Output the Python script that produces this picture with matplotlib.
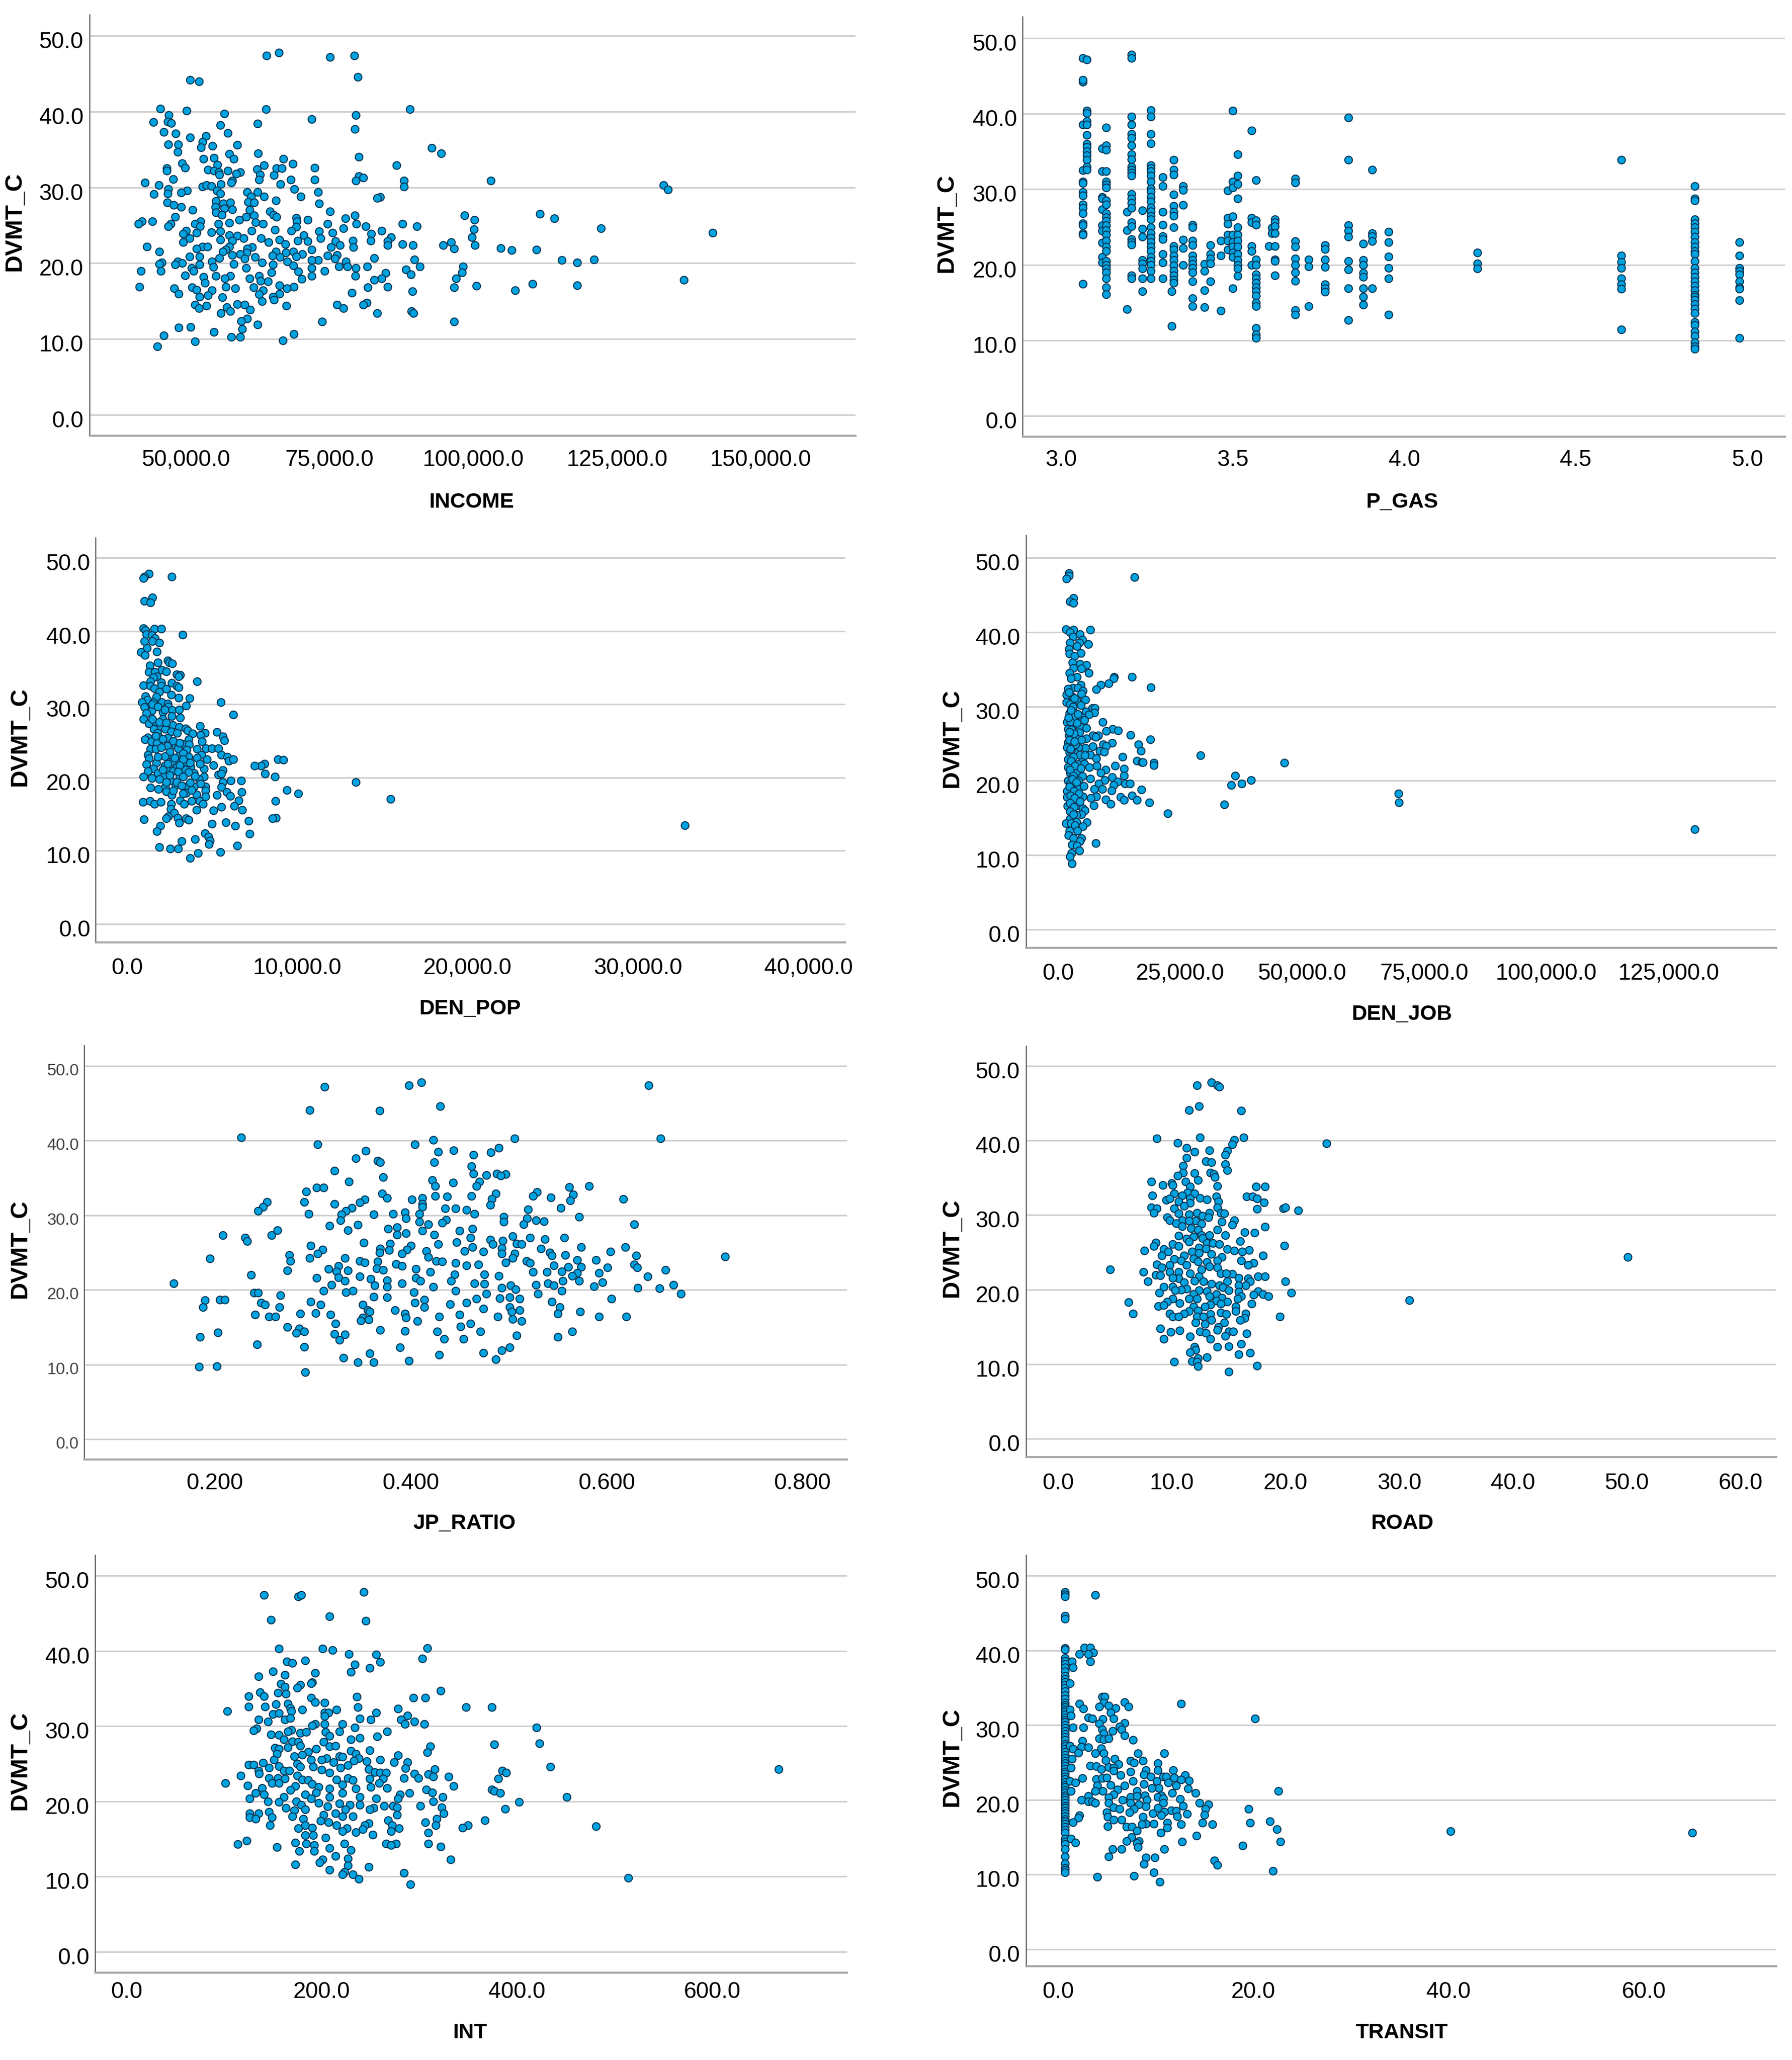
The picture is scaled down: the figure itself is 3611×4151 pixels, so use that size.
import numpy as np
import matplotlib
matplotlib.use("Agg")
import matplotlib.pyplot as plt
from matplotlib.transforms import ScaledTranslation

income_pts = [(64100,47.4),(66200,47.8),(75100,47.2),(79300,47.4),(79900,44.6),(50800,44.2),(52300,44.0),(45600,40.4),(50200,40.1),(64000,40.3),(89000,40.3),(56700,39.7),(79600,39.5),(47100,39.5),(71900,39.0),(44400,38.6),(46900,38.7),(47500,38.5),(62500,38.4),(56000,38.2),(79400,37.7),(46200,37.3),(57300,37.2),(48300,37.1),(53500,36.8),(50800,36.6),
(47000,35.7),(48700,35.7),(54700,35.5),(52900,36.0),(52700,35.3),(59000,35.6),(92800,35.2),(94400,34.5),(48600,34.7),(57600,34.4),(62600,34.5),(53100,33.8),(54900,33.9),(58400,33.8),(67000,33.8),(80100,34.0),(49400,33.2),(68600,33.1),(86700,32.9),(55500,33.0),(49900,32.6),(46700,32.5),(63600,32.9),(72400,32.6),(65800,32.5),(66700,32.5),(62400,32.4),(53900,32.3),(54900,32.2),(57300,32.2),(46700,32.2),(55800,32.0),(59500,32.0),(58800,31.8),(55900,31.7),(62900,31.7),(65400,31.6),(80100,31.5),(80900,31.3),(47800,31.1),(62800,31.0),(68300,31.0),(72400,31.0),(79600,30.9),(88000,30.9),(103100,30.9),(133100,30.3),(133900,29.7),(58100,30.9),(57900,30.6),(42900,30.6),(45300,30.3),(66500,30.4),(52900,30.1),(53600,30.3),(54500,30.2),(56100,30.4),(88000,30.1),(68900,29.8),(47000,29.8),(50300,29.6),(55400,29.6),(60700,29.4),(62500,29.4),(73000,29.4),(44500,29.1),(46900,29.2),(49200,29.3),(56000,29.2),(61400,28.8),(63600,28.8),(70000,28.8),(83800,28.7),(83300,28.6),(65700,28.3),(55300,28.2),(46800,28.0),(56600,27.9),(57800,28.0),(60900,28.1),(61900,28.0),(73200,27.9),(47900,27.7),(55200,27.4),(49200,27.4),(56700,27.2),(51200,27.0),(58100,27.1),(61100,27.0),(75100,26.8),(64700,26.8),(55300,26.7),(56300,26.4),(65300,26.4),(61900,26.3),(79400,26.3),(98500,26.3),(111600,26.5),(114100,25.9),(65800,26.1),(48200,26.1),(60500,26.1),(69200,26.0),(77800,25.9),(100200,25.7),(71200,25.7),(59300,25.7),(44200,25.5),(42400,25.5),(41800,25.2),(57600,25.3),(52600,25.5),(51600,25.2),(62200,25.4),(63500,25.2),(47400,25.2),(47000,24.9),(52500,24.9),(55700,25.2),(69300,25.5),(74700,25.2),(87700,25.2),(90200,24.9),(79700,25.2),(81300,24.9),(77400,24.6),(69200,24.8),(100100,24.5),(122200,24.6),(68400,24.3),(84100,24.3),(141600,24.0),
(50100,24.3),(54500,24.1),(56000,24.2),(61500,24.3),(65500,24.4),(73200,24.2),(75500,24.0),(82300,23.9),(51900,24.0),(49600,23.9),(57600,23.7),(59000,23.6),(70500,23.7),(73500,23.3),(85700,23.4),(50700,23.3),(60100,23.3),(63100,23.3),(99800,23.4),(56000,23.1),(66300,23.1),(69500,23.0),(71200,22.9),(82200,23.0),(96200,22.8),(79100,23.0),(76100,22.9),(58100,23.0),(49600,22.8),(64400,22.8),(85100,22.9),
(67300,22.5),(76800,22.4),(87700,22.5),(89500,22.4),(94800,22.4),(100300,22.4),(85100,22.4),(43300,22.2),(52900,22.2),(53800,22.2),(57600,22.2),(61600,22.1),(75300,22.1),(79200,22.1),(104800,22.0),(51900,21.9),(57000,21.8),(60700,21.9),(71900,21.8),(106700,21.7),(96700,21.9),(111000,21.8),(45400,21.5),(65700,21.5),(68700,21.5),(56500,21.5),(60600,21.4),(67400,21.4),(52400,20.9),(59500,21.2),(70300,21.2),(74700,21.0),(65100,21.0),(58100,21.1),(76300,21.1),(50700,20.9),(66400,20.8),(55900,20.7),(69200,20.9),(62100,20.8),(73000,20.4),(71900,20.4),(76000,20.6),(89800,20.5),(82800,20.7),(60300,20.6),(115400,20.4),(121000,20.5),(118100,20.1),(77900,20.2),(54600,20.2),(67700,20.2),(63300,20.1),(45900,20.1),(48600,20.2),(49400,20.0),
(45400,19.9),(48200,19.8),(58400,19.9),(52400,19.8),(65200,19.8),(68700,19.7),(76700,19.6),(78100,19.6),(79600,19.4),(81600,19.6),(90700,19.6),(98200,19.6),(54800,19.5),(60500,19.4),(51000,19.4),(71900,19.4),(42200,19.0),(45700,19.0),(51400,19.0),(88300,19.2),(69600,18.9),(74200,19.0),(64900,18.8),(98100,18.8),(89200,18.5),(84800,18.7),(49900,18.4),(53100,18.2),(55300,18.3),(57800,18.3),(62800,18.3),(71900,18.3),(79500,18.3),(97000,18.0),(136600,17.8),(84100,18.0),(70200,17.9),(61100,18.0),(82800,17.8),(56800,18.0),(64300,17.6),(53400,17.4),(63000,17.7),(110300,17.3),(42000,16.9),(100600,17.0),(118100,17.1),(57000,16.9),(51100,16.8),(66300,17.1),(68800,16.9),(85100,16.9),(81700,16.8),(96700,16.8),(61800,16.8),(48000,16.7),(58600,16.7),(51900,16.5),(67600,16.7),(54600,16.4),(89400,16.3),(107300,16.4),(63500,16.4),(78900,16.1),(48800,16.0),(53900,15.8),(62800,15.9),(66300,16.0),(52400,15.6),(56400,15.5),(65200,15.6),(63300,15.0),(65400,15.2),(81500,14.8),
(59000,14.6),(60300,14.5),(51600,14.5),(53600,14.4),(67500,14.4),(76300,14.5),(80900,14.5),(57200,14.2),(52300,14.1),(61200,13.9),(77400,14.1),(57800,13.7),(89300,13.7),(56100,13.4),(83300,13.4),(89600,13.4),(60700,12.7),(59700,12.4),(73700,12.3),(96700,12.3),(62500,11.9),(48800,11.5),(50900,11.6),(59800,11.3),(54900,10.9),(68800,10.7),(46200,10.5),(57900,10.3),(59500,10.3),(51600,9.7),(66900,9.8),(45100,9.0)]

p_gas_columns = [3.063,3.075,3.12,3.132,3.193,3.205,3.237,3.262,3.297,3.328,3.323,3.356,3.383,3.418,3.435,3.466,3.486,3.5,3.515,3.556,3.568,3.606,3.614,3.624,3.682,3.721,3.77,3.837,3.881,3.907,3.954,4.214,4.633,4.846,4.977]
p_gas_values = [
[47.4,44.2,44.5,38.6,32.5,31.0,30.8,29.6,29.2,28.0,27.5,26.8,25.5,25.2,24.2,24.0,17.5],
[47.2,40.4,40.1,39.0,38.6,37.2,36.0,35.6,35.0,34.5,33.9,33.0,32.6],
[35.4,32.4,29.0,28.8,27.3,25.2,24.5,22.9,21.0,20.3],
[38.2,35.8,35.2,32.4,31.0,30.6,30.2,28.5,28.0,26.8,26.3,25.8,25.2,24.6,24.0,23.2,22.4,21.8,20.5,20.0,19.5,19.0,18.2,17.0,16.1],
[27.0,24.6,14.1],
[47.8,47.4,39.6,38.6,37.3,36.8,35.8,34.6,34.0,33.0,32.6,32.2,31.8,29.4,28.8,28.2,27.5,25.6,25.1,23.4,23.0,22.7,18.6,18.2],
[20.6,20.2,19.5,18.2,16.5,27.2,24.8,23.7],
[40.5,39.6,37.3,36.1,33.2,32.8,32.4,31.8,31.0,30.1,29.7,29.0,28.4,27.6,27.1,26.5,26.0,25.0,24.2,23.6,23.0,22.4,21.8,21.0,20.5,20.0,19.2,18.2],
[31.6,30.4,27.0,25.3,23.8,23.4,21.4,20.3,18.2],
[33.9,32.6,31.9,29.3,27.8,27.0,26.5,25.0,22.5,22.0,21.2,20.6,19.9,19.2,18.6,18.0,17.6],
[16.5,11.9],
[30.4,29.9,27.9,23.3,22.2,20.0],
[25.3,25.0,23.2,22.6,21.2,20.6,20.1,19.6,19.0,17.8,15.6,14.5],
[20.1,19.2,16.6,14.4],
[22.6,21.4,20.8,20.2,17.8],
[23.2,21.2,13.9],
[29.8,26.2,25.4,24.0,23.2,22.0],
[40.4,31.0,30.2,26.4,24.0,23.0,22.4,21.6,21.0,16.9],
[34.6,31.8,30.7,28.8,25.0,24.0,23.2,22.4,21.4,20.6,20.0,19.5,18.5],
[37.8,26.2,25.6,22.5,21.8,20.0],
[31.2,25.9,25.3,20.7,20.0,18.7,18.2,17.6,17.0,16.5,15.9,15.0,14.5,11.6,10.8,10.3],
[22.5],
[24.9,24.2],
[26.0,25.6,25.1,24.2,22.5,20.7,20.5,18.6],
[31.4,30.9,23.1,22.4,20.8,20.0,19.0,17.9,14.0,13.4],
[20.7,19.8,14.5],
[22.6,22.1,20.7,19.7,17.4,16.9,16.4],
[39.5,33.9,25.2,24.5,23.7,20.5,19.4,16.9,12.7],
[22.8,20.6,20.0,18.9,18.4,16.9,15.8,14.7],
[32.6,24.2,23.8,23.1,16.9],
[24.4,23.0,21.1,19.6,18.2,13.4],
[21.6,20.2,19.5],
[33.9,21.2,20.4,19.6,18.2,17.4,16.8,11.4],
[30.4,28.8,28.5,26.0,25.5,25.0,24.4,23.7,23.0,22.4,21.8,21.4,20.5,19.6,19.0,18.4,17.8,17.2,16.6,16.0,15.8,15.4,14.8,14.2,13.6,12.4,12.0,11.2,10.6,9.7,9.2,8.9],
[23.0,21.2,19.6,19.2,18.7,17.8,17.0,16.8,15.3,10.3]]

den_pop_pts = [(1290,47.8),(1030,47.4),(960,47.2),(2630,47.4),(1490,44.6),(1020,44.1),(1360,43.9),(970,40.4),(1090,40.1),(1590,40.3),(2010,40.3),(3270,39.5),(1140,39.6),(1460,39.4),(1640,39.0),(1020,38.6),(1490,38.6),(1880,38.4),(1160,37.7),(1760,37.2),(810,37.1),(1060,36.7),(2400,36.0),(2480,35.7),(2650,35.6),(1800,35.7),(1340,35.3),(1290,34.4),(2050,34.7),(2300,34.5),(1630,34.4),(2920,34.1),(3130,34.0),(3030,33.8),(1760,33.8),(4100,33.1),(1530,33.7),(1360,33.1),(2010,33.0),(2630,32.9),(960,32.6),(1360,32.5),(2010,32.5),(2900,32.5),(3020,32.3),(1590,32.2),(2300,32.1),(1900,31.7),(2600,31.3),(1090,31.1),(1730,31.0),(3020,30.9),(3670,30.8),(1190,30.6),(860,30.3),(5510,30.3),(1540,30.3),(2050,30.3),(2400,30.1),(3470,29.8),(1010,29.6),(2430,29.7),(1460,29.1),(2650,29.2),(3060,29.3),(2090,28.9),(6220,28.6),(1130,28.8),(2630,28.4),(3110,28.2),(970,28.0),(2090,28.0),(1290,27.4),(1710,27.5),(2680,27.2),(1930,27.0),(3060,26.9),(4290,27.0),(3430,26.7),(1560,26.6),(2230,26.6),(2600,26.3),(3550,26.4),(5260,26.2),(4560,26.1),(1790,26.1),(2940,26.1),(3840,26.0),(4300,25.8),(5610,25.6),(1900,25.5),(2380,25.4),(1230,25.5),(1040,25.2),(5720,25.1),(3600,25.2),(4390,24.9),(1430,24.9),(1760,24.7),(3270,24.6),(3630,24.5),(2850,24.4),(2360,24.3),(1360,23.9),(1680,23.9),(4100,23.9),(4640,24.0),(4990,24.0),(5360,24.0),(3500,23.8),(1230,23.1),(2430,23.1),(3100,23.1),(4370,23.1),(5530,23.1),(3600,22.8),(1290,22.6),(4100,22.7),(5880,22.8),(2680,22.2),(3050,22.3),(4700,22.5),(5960,22.3),(6240,22.5),(8850,22.5),(9190,22.4),(8060,21.9),(7860,21.6),(7490,21.6),(1730,22.0),(3500,22.1),(1150,21.8),(5070,21.7),(2200,21.6),(2900,21.4),(3740,21.5),(4520,21.2),(5610,21.0),(1540,21.2),(2510,21.1),(3430,21.1),(4270,21.9),(1220,20.9),(2680,20.9),(1810,20.6),(3930,20.6),(8100,20.5),(5360,20.4),(5530,20.5),(8670,20.1),(4520,20.1),(960,20.1),(2180,20.1),(3100,20.2),(1460,19.9),(4220,19.8),(2570,19.6),(6090,19.6),(6710,19.6),(13430,19.4),(5610,19.4),(5530,18.7),(3500,18.8),(2230,18.8),(2860,19.0),(1360,18.6),(3930,18.8),(4610,18.8),(1840,18.4),(9370,18.3),(2310,18.1),(4610,18.2),(6740,18.0),(5860,18.0),(10040,17.8),(3480,17.9),(2630,17.6),(4080,17.7),(5270,17.6),(6070,17.5),(4610,17.4),(920,16.7),(1330,16.8),(1590,16.4),(1980,16.7),(3130,16.9),(3800,16.8),(4250,16.8),(6560,16.9),(8700,16.8),(2600,16.4),(3350,16.4),(4470,16.4),(15470,17.1),(6280,16.1),(5530,16.0),(2570,15.7),(4070,15.6),(5070,15.5),(6760,15.6),(2770,15.2),(2430,14.7),(2970,14.5),(3470,14.4),(8750,14.5),(8550,14.4),(2300,14.4),(990,14.3),(3600,14.2),(7150,14.1),(3060,13.8),(5810,13.9),(4970,13.7),(6340,13.4),(1960,13.4),(1760,12.7),(4570,12.4),(7210,12.3),(4770,11.9),(3990,11.6),(4870,11.4),(3210,11.3),(4820,10.9),(6460,10.7),(1900,10.5),(2530,10.3),(3000,10.3),(4170,9.7),(5490,9.8),(3700,9.0),(32750,13.5),
(2000,24.1),(2500,23.5),(3000,24.0),(3300,23.3),(2200,22.9),(2800,22.7),(3300,22.5),(1800,22.8),(2400,21.9),(3100,21.7),(3700,22.0),(2100,21.1),(3000,20.8),(3600,20.7),(2500,20.3),(3300,20.1),(4000,20.2),(1900,19.8),(2900,19.4),(3700,19.3),(4300,19.2),(2300,19.4),(3200,18.9),(3800,18.3),(2700,18.2),(3300,17.8),(1700,25.7),(2100,25.3),(2700,25.0),(3100,24.7),(1500,28.0),(1900,27.6),(2300,27.5),(1500,30.0),(1800,29.7),(2200,29.3)]

den_job_pts = [(2250,47.9),(2190,47.6),(1730,47.2),(15660,47.4),(3120,44.6),(2430,44.1),(3180,43.9),(1610,40.4),(3180,40.3),(6560,40.3),(2430,40.0),(4470,39.7),(3070,39.4),(4930,39.0),(2480,38.6),(4350,38.6),(6210,38.4),(3880,38.1),(2190,37.7),(4640,37.2),(2370,37.1),(3360,36.8),(2950,35.9),(4470,35.7),(5750,35.6),(3180,35.2),(4820,35.1),(2310,34.5),(6270,34.5),(3880,34.0),(2600,33.8),(11460,34.0),(15190,34.0),(11340,33.8),(10410,33.1),(8720,32.9),(4640,32.9),(18980,32.6),(7850,32.3),(3010,32.5),(2020,32.4),(4060,32.5),(5050,32.1),(4820,31.7),(2950,31.3),(1730,31.6),(5630,30.9),(3770,30.9),(1730,30.6),(2480,30.3),(4640,30.2),(6970,29.8),(7500,29.8),(5690,29.3),(7440,29.2),(6270,28.9),(2310,29.1),(3530,29.1),(4930,28.5),(5400,28.2),(3010,28.3),(9190,27.9),(1840,27.9),(3420,27.6),(4470,27.3),(5810,27.1),(2020,27.0),(11170,27.0),(9890,26.7),(12340,26.8),(4350,26.5),(14790,26.2),(7090,26.1),(8260,26.1),(7730,25.9),(2190,26.1),(5810,25.7),(3770,25.7),(18870,25.6),(4820,25.5),(2020,25.2),(11040,25.1),(9250,24.9),(16420,24.9),(9890,24.7),(7090,24.6),(5630,24.4),(2890,24.7),(4180,24.5),(1840,24.5),(8550,24.0),(9480,23.9),(17000,24.0),(2310,23.8),(3650,23.7),(6560,23.5),(29130,23.4),(13210,23.2),(7850,23.0),(2020,22.9),(4930,23.0),(16130,22.7),(17170,22.5),(17400,22.5),(19620,22.4),(19620,22.1),(46390,22.4),(2890,22.3),(4060,22.2),(5400,22.3),(7970,22.0),(11700,22.0),(2020,21.8),(6390,21.8),(9710,21.5),(13560,21.6),(2480,21.1),(3770,21.1),(8720,21.1),(4930,20.6),(36240,20.7),(13560,20.7),(11040,20.5),(6560,20.3),(2020,20.0),(9590,20.1),(39560,20.1),(4180,20.0),(12220,19.9),(2480,19.6),(13680,19.6),(14730,19.6),(37570,19.6),(35420,19.4),(8310,19.6),(11340,19.4),(4350,19.1),(7440,18.9),(9010,18.9),(2890,18.8),(17120,18.8),(10940,18.7),(1840,18.6),(5050,17.9),(7850,17.9),(15130,18.0),(69760,18.3),(1840,17.8),(12800,17.8),(6680,17.7),(9770,17.5),(13560,17.4),(16190,17.4),(69820,17.1),(3180,17.4),(18690,17.1),(10760,16.9),(34060,16.8),(7270,16.7),(1900,16.6),(4230,16.7),(2890,16.3),(5050,16.3),(5510,16.0),(4820,15.5),(3770,15.4),(22430,15.6),(2430,14.9),(3770,14.5),(5870,14.4),(1610,14.3),(2600,14.3),(3470,14.0),(5050,13.9),(3940,13.3),(2310,13.3),(2130,12.7),(4820,12.3),(3180,12.3),(4520,11.9),(7730,11.6),(2890,11.4),(3880,11.3),(4350,10.6),(2780,10.3),(2480,9.8),(2890,8.9),(130400,13.5),
(3000,30.0),(3500,28.7),(2500,28.0),(3900,27.8),(2700,26.9),(3300,26.4),(2300,26.6),(3600,24.9),(2600,24.1),(4500,23.5),(3100,23.2),(5500,23.4),(2600,22.7),(3500,22.0),(4700,21.7),(2400,21.5),(3200,20.7),(2900,20.2),(3800,19.8),(5300,19.3),(2300,19.2),(3300,18.6),(4300,18.3),(2500,18.0),(3400,17.7),(4500,17.2),(2400,17.0),(3300,16.5),(2400,15.9),(3100,15.5),(2200,31.9),(3400,31.1),(2600,29.5),(4100,29.0),(2100,28.5),(2300,25.5),(3400,25.3),(2500,24.3)]

jp_ratio_pts = [(.411,47.8),(.398,47.4),(.312,47.2),(.643,47.4),(.430,44.6),(.297,44.1),(.368,44.0),(.227,40.4),(.506,40.3),(.655,40.3),(.423,40.1),(.305,39.5),(.404,39.5),(.490,39.0),(.444,38.7),(.354,38.6),(.428,38.5),(.482,38.4),(.464,38.1),(.344,37.6),(.366,37.3),(.369,37.1),(.424,37.1),(.462,36.6),(.322,36.0),(.464,35.6),(.477,35.4),(.488,35.6),(.497,35.5),(.492,35.3),(.372,35.1),(.422,34.7),(.337,34.5),(.443,34.4),(.470,34.5),(.467,33.9),(.425,33.9),(.304,33.7),(.311,33.7),(.562,33.8),(.582,33.9),(.293,33.2),(.529,33.1),(.371,32.9),(.566,32.8),(.487,32.9),(.525,32.6),(.543,32.4),(.462,32.6),(.425,32.6),(.437,32.5),(.376,32.3),(.412,32.3),(.401,32.1),(.617,32.2),(.483,32.2),(.563,32.0),(.253,31.8),(.353,32.1),(.291,31.8),(.348,31.7),(.322,31.5),(.412,31.5),(.481,31.4),(.249,31.1),(.340,31.0),(.412,31.1),(.553,31.0),(.435,30.9),(.446,30.9),(.457,30.7),(.520,30.8),(.244,30.6),(.334,30.6),(.296,30.2),(.394,30.4),(.409,30.2),(.382,30.2),(.465,30.2),(.362,30.1),(.329,30.1),(.572,29.8),(.495,29.8),(.395,29.6),(.519,29.6),(.328,29.3),(.436,29.4),(.528,29.3),(.536,29.2),(.495,29.1),(.409,29.1),(.628,28.8),(.418,28.8),(.432,29.0),(.515,28.8),(.317,28.6),(.346,28.7),(.386,28.4),(.377,28.2),(.450,27.9),(.463,28.2),(.412,27.9),(.264,28.0),(.336,28.0),(.395,27.6),(.386,27.4),(.424,27.4),(.208,27.3),(.258,27.3),(.504,27.2),(.557,27.0),(.231,27.0),(.522,27.0),(.461,27.0),(.537,26.8),(.233,26.5),(.481,26.7),(.494,26.6),(.447,26.4),(.352,26.3),(.508,26.2),(.513,26.1),(.379,26.2),(.428,26.1),(.484,26.1),(.298,25.9),(.400,25.9),(.463,25.7),(.574,25.7),(.619,25.7),(.493,25.6),(.533,25.5),(.369,25.5),(.310,25.4),(.378,25.3),(.396,25.4),(.416,25.2),(.455,25.2),(.474,25.1),(.604,25.1),(.305,24.9),(.368,25.0),(.493,24.9),(.542,25.0),(.506,24.9),(.391,24.9),(.276,24.7),(.630,24.6),(.721,24.5),(.558,24.7),(.544,24.6),(.297,24.3),(.333,24.3),(.195,24.2),(.418,24.4),(.504,24.3),(.589,24.0),(.570,24.0),(.277,23.9),(.348,23.9),(.366,23.8),(.353,23.7),(.426,23.9),(.518,23.9),(.432,23.8),(.446,23.6),(.385,23.5),(.469,23.4),(.497,23.7),(.522,23.6),(.628,23.4),(.546,23.3),(.561,23.1),(.457,23.3),(.391,23.2),(.574,23.1),(.326,23.2),(.601,23.0),(.631,23.0),(.316,22.8),(.365,22.9),(.372,22.7),(.405,22.8),(.274,22.6),(.660,22.7),(.336,22.6),(.324,22.5),(.554,22.5),(.592,22.3),(.525,22.4),(.539,22.4),(.420,22.4),(.570,22.3),(.445,22.1),(.475,22.1),(.237,22.0),(.490,21.9),(.642,21.8),(.565,21.9),(.348,21.8),(.326,21.7),(.304,21.6),(.405,21.6),(.359,21.5),(.376,21.3),(.572,21.2),(.441,21.2),(.333,21.2),(.410,21.2),(.555,21.2),(.540,20.9),(.596,21.0),(.158,20.9),(.465,20.9),(.475,20.8),(.319,20.7),(.391,20.9),(.668,20.7),(.546,20.6),(.528,20.7),(.502,20.6),(.363,20.6),(.587,20.5),(.423,20.4),(.376,20.4),(.632,20.3),(.493,20.3),(.507,20.1),(.654,20.2),(.446,19.9),(.311,19.9),(.341,19.9),(.554,19.9),(.334,19.7),(.403,19.7),(.676,19.5),(.240,19.6),(.244,19.6),(.477,19.5),(.530,19.5),(.267,19.3),(.362,19.1),(.376,19.0),(.501,19.0),(.491,18.9),(.605,18.8),(.205,18.7),(.210,18.7),(.190,18.6),(.414,18.7),(.467,18.8),(.511,18.8),(.298,18.4),(.247,18.3),(.404,18.3),(.544,18.4),(.457,18.3),(.440,18.1),(.308,18.0),(.251,18.0),(.351,18.0),(.188,17.7),(.501,17.7),(.552,17.7),(.266,17.7),(.414,17.7),(.474,17.5),(.356,17.3),(.511,17.3),(.384,17.3),(.573,17.1),(.358,17.1),(.503,17.1),(.303,16.9),(.287,16.8),(.550,16.8),(.241,16.7),(.318,16.7),(.394,16.8),(.429,16.4),(.450,16.7),(.255,16.4),(.262,16.4),(.489,16.4),(.592,16.4),(.620,16.4),(.351,16.3),(.395,16.3),(.357,16.0),(.349,15.9),(.504,16.1),(.513,15.8),(.407,15.8),(.323,15.5),(.461,15.5),(.451,15.1),(.274,15.0),(.286,14.8),(.369,14.6),(.471,14.4),(.565,14.4),(.394,14.5),(.291,14.4),(.283,14.2),(.427,14.4),(.322,14.1),(.203,14.3),(.333,14.0),(.185,13.7),(.550,13.7),(.508,13.9),(.327,13.3),(.434,13.4),(.454,13.4),(.243,12.7),(.291,12.4),(.389,12.3),(.501,12.3),(.493,11.9),(.474,11.6),(.358,11.5),(.429,11.3),(.331,10.9),(.487,10.7),(.398,10.5),(.346,10.3),(.362,10.3),(.184,9.7),(.202,9.8),(.292,9.0)]

road_pts = [(13.5,47.8),(12.2,47.4),(14.0,47.4),(14.2,47.2),(12.4,44.6),(11.5,44.1),(16.1,44.0),(8.7,40.3),(12.5,40.4),(16.3,40.4),(15.5,40.1),(10.5,39.7),(23.6,39.6),(15.3,39.5),(11.3,39.0),(12.0,38.5),(13.3,38.7),(14.9,38.6),(14.7,38.1),(11.3,37.7),(13.0,37.2),(13.5,37.1),(14.7,36.8),(11.0,36.6),(14.9,36.0),(12.0,35.6),(11.0,35.7),(13.4,35.7),(13.7,35.5),(10.5,35.3),(13.8,35.1),(12.3,34.7),(8.2,34.5),(11.2,34.5),(10.0,34.3),(9.2,34.0),(10.1,34.0),(14.0,33.9),(11.6,33.8),(17.4,33.8),(18.2,33.8),(10.2,32.9),(11.4,33.0),(12.0,32.9),(8.3,32.6),(10.9,32.6),(13.9,32.5),(16.6,32.5),(17.1,32.5),(17.5,32.2),(11.6,32.2),(12.5,32.3),(13.1,32.1),(9.5,32.0),(9.8,32.2),(10.6,31.8),(11.6,31.6),(14.1,31.8),(18.1,31.7),(11.1,31.2),(10.2,30.9),(8.2,31.0),(8.7,30.9),(14.0,31.0),(17.5,30.8),(19.8,30.9),(20.0,31.0),(21.1,30.6),(8.4,30.3),(10.6,30.2),(12.2,30.3),(13.3,30.3),(14.3,30.3),(14.6,30.2),(11.5,30.1),(12.7,29.9),(13.2,29.7),(9.6,29.7),(9.8,29.3),(15.5,29.3),(10.9,29.3),(12.1,29.2),(11.5,29.2),(14.4,29.1),(10.4,28.9),(12.6,28.8),(10.9,28.5),(15.3,28.7),(18.2,28.4),(11.7,28.2),(12.3,28.0),(14.0,28.0),(16.4,27.7),(17.3,27.6),(10.6,27.2),(12.6,27.3),(13.3,27.3),(14.7,27.3),(11.9,27.1),(11.3,26.8),(12.7,26.9),(11.5,26.4),(16.0,26.5),(13.1,26.2),(13.6,26.2),(8.6,26.3),(10.1,26.1),(14.2,26.1),(8.4,25.8),(10.6,25.8),(19.9,25.9),(12.4,25.6),(13.0,25.5),(14.9,25.4),(15.5,25.2),(16.8,25.3),(16.2,25.1),(9.3,25.4),(9.7,25.1),(11.8,25.1),(7.6,25.2),(12.4,24.9),(13.5,24.8),(9.1,24.6),(11.1,24.6),(18.0,24.6),(14.4,24.4),(10.2,24.1),(10.8,23.9),(11.9,24.2),(12.3,23.8),(16.1,23.9),(14.0,23.9),(13.1,23.7),(17.2,23.6),(8.7,23.4),(9.8,23.3),(11.3,23.3),(16.7,23.3),(9.1,23.0),(13.3,23.1),(4.6,22.7),(12.6,22.7),(14.0,23.0),(7.5,22.4),(10.6,22.4),(9.8,22.4),(14.3,22.2),(15.3,22.1),(11.6,22.2),(8.6,22.0),(9.0,21.9),(14.8,22.2),(12.4,21.8),(17.6,21.8),(18.2,21.8),(10.6,21.5),(15.9,21.6),(16.7,21.5),(10.1,21.6),(12.0,21.2),(14.9,21.1),(16.9,21.1),(7.9,21.1),(20.0,21.1),(11.1,21.0),(12.8,21.1),(13.5,20.8),(14.2,20.6),(16.5,20.6),(15.9,20.6),(9.3,20.4),(10.1,20.4),(11.3,20.1),(14.5,20.3),(12.4,19.9),(10.8,20.0),(10.3,19.9),(17.6,19.8),(15.0,19.9),(13.1,19.8),(8.9,19.6),(20.5,19.6),(15.9,19.7),(18.0,19.4),(17.2,19.3),(18.5,19.1),(11.9,19.4),(13.9,19.4),(13.3,19.1),(16.1,19.1),(14.4,18.9),(10.1,18.8),(12.2,18.8),(11.5,18.8),(15.8,18.8),(30.9,18.6),(13.9,18.5),(6.2,18.3),(9.6,18.4),(10.7,18.2),(14.9,18.4),(17.0,18.1),(13.4,18.0),(14.3,18.1),(8.8,17.8),(9.3,17.9),(11.9,17.7),(12.9,17.7),(15.6,17.7),(11.5,17.1),(12.3,17.2),(15.6,17.1),(6.6,16.8),(9.8,16.8),(14.3,16.9),(16.5,16.8),(14.8,16.7),(13.4,16.7),(11.1,16.8),(10.1,16.4),(10.6,16.4),(12.2,16.4),(12.8,16.4),(19.5,16.4),(16.4,16.2),(13.5,15.9),(16.0,15.9),(12.1,15.6),(14.6,15.6),(12.9,15.4),(9.0,14.8),(14.1,15.0),(14.0,14.6),(10.7,14.5),(9.9,14.3),(12.5,14.4),(15.0,14.4),(15.4,14.4),(13.0,14.2),(16.6,14.1),(11.6,13.7),(14.7,13.8),(9.3,13.4),(13.4,13.4),(16.1,12.7),(12.0,12.3),(14.0,12.3),(15.0,12.4),(12.1,11.9),(11.6,11.6),(16.9,11.5),(15.9,11.3),(13.1,10.9),(12.3,10.8),(11.8,10.4),(10.2,10.3),(12.2,10.3),(17.5,9.8),(12.3,9.7),(15.0,9.0),(50.1,24.4)]

int_pts = [(141,47.4),(176,47.2),(179,47.4),(243,47.8),(208,44.6),(148,44.1),(245,44.0),(156,40.3),(201,40.3),(211,40.1),(308,40.4),(228,39.6),(256,39.5),(303,39.0),(164,38.6),(183,38.7),(170,38.4),(260,38.5),(234,38.2),(249,37.7),(150,37.3),(193,37.1),(230,37.2),(162,36.8),(135,36.6),(190,35.8),(189,35.7),(158,35.6),(178,35.5),(162,35.2),(175,35.1),(322,34.7),(137,34.5),(155,34.4),(163,34.3),(141,34.0),(125,34.0),(236,33.9),(294,33.8),(306,33.8),(189,33.8),(193,33.2),(203,33.1),(153,32.9),(165,33.0),(125,32.6),(142,32.6),(237,32.5),(348,32.5),(374,32.5),(168,32.4),(180,32.2),(278,32.3),(215,32.2),(103,32.0),(169,32.0),(256,31.8),(203,31.8),(150,31.6),(156,31.7),(207,31.8),(288,31.4),(203,31.3),(281,30.9),(135,30.9),(162,30.9),(168,31.1),(239,31.0),(250,30.9),(295,30.6),(285,30.3),(305,30.3),(145,30.6),(221,30.3),(203,30.3),(193,30.3),(190,30.1),(420,29.8),(234,29.8),(133,29.7),(130,29.4),(169,29.5),(165,29.3),(218,29.3),(267,29.3),(178,29.1),(184,29.2),(204,29.2),(148,28.9),(156,28.8),(208,28.7),(239,28.4),(257,28.6),(230,28.2),(161,28.2),(170,28.0),(202,27.9),(176,27.9),(423,27.7),(377,27.6),(311,27.3),(208,27.3),(214,27.4),(152,27.1),(156,27.0),(165,27.2),(178,27.4),(194,27.0),(249,26.8),(230,26.7),(186,26.6),(308,26.5),(154,26.3),(180,26.2),(235,26.3),(278,26.1),(172,26.0),(218,26.0),(221,25.9),(238,25.7),(205,25.7),(151,25.5),(189,25.5),(200,25.5),(260,25.5),(233,25.4),(246,25.3),(212,25.2),(288,25.2),(274,25.2),(140,25.1),(125,24.9),(130,24.9),(175,25.0),(156,24.7),(227,24.8),(434,24.6),(668,24.3),(178,24.6),(191,24.6),(286,24.4),(146,24.5),(219,24.5),(316,24.3),(248,24.3),(200,24.2),(385,24.1),(135,24.1),(389,23.8),(161,24.1),(167,24.1),(254,23.9),(260,23.8),(266,23.8),(295,23.7),(136,23.7),(117,23.4),(175,23.4),(208,23.8),(309,23.6),(314,23.3),(330,23.3),(299,23.1),(381,23.0),(284,23.1),(263,23.0),(155,23.1),(146,23.1),(162,23.0),(227,23.1),(180,22.9),(215,22.9),(249,23.0),(186,22.8),(232,22.8),(101,22.4),(149,22.4),(156,22.4),(259,22.4),(190,22.3),(221,22.2),(124,22.1),(335,22.0),(250,21.9),(173,22.0),(267,21.8),(197,21.9),(139,21.8),(374,21.6),(377,21.4),(307,21.6),(235,21.7),(208,21.7),(168,21.5),(313,21.2),(383,21.1),(290,21.1),(132,21.1),(194,21.2),(221,21.1),(141,20.9),(183,20.9),(280,20.9),(451,20.6),(324,20.6),(239,20.6),(126,20.4),(256,20.4),(208,20.6),(161,20.6),(278,20.4),(189,20.4),(402,19.9),(145,20.0),(314,20.0),(156,19.9),(174,20.0),(218,19.7),(197,19.8),(229,19.5),(239,19.5),(264,19.4),(273,19.4),(301,19.4),(179,19.5),(206,19.3),(253,19.1),(277,19.2),(323,19.2),(163,19.1),(388,19.0),(249,18.9),(224,18.9),(146,18.6),(172,18.8),(183,18.9),(135,18.4),(126,18.4),(325,18.4),(214,18.4),(202,18.2),(277,18.2),(221,18.0),(232,18.0),(126,17.9),(149,17.9),(170,18.0),(181,17.7),(318,17.7),(132,17.7),(268,17.5),(367,17.5),(199,17.4),(248,17.1),(207,17.2),(306,17.2),(147,16.8),(183,16.8),(244,16.8),(272,16.8),(215,16.8),(317,16.8),(350,16.8),(344,16.5),(481,16.7),(279,16.4),(176,16.4),(190,16.5),(226,16.4),(242,16.3),(221,16.0),(271,16.0),(235,15.9),(309,15.8),(252,15.6),(183,15.5),(191,15.5),(204,15.2),(123,14.8),(114,14.3),(173,14.5),(184,14.4),(223,14.4),(309,14.4),(266,14.4),(276,14.4),(271,14.2),(192,14.2),(154,13.9),(322,14.0),(208,13.8),(230,13.5),(177,13.4),(192,13.4),(214,12.7),(332,12.3),(227,12.4),(201,12.3),(198,11.9),(173,11.6),(227,11.5),(248,11.3),(208,10.9),(284,10.5),(223,10.6),(221,10.3),(232,10.3),(514,9.8),(238,9.7),(291,9.0)]

transit_zero_x = 0.7
transit_zero_y = [47.8,47.5,47.2,44.6,44.2,40.3,40.1,39.0,38.6,38.2,37.7,37.2,36.6,36.2,35.8,35.4,35.0,34.5,34.0,33.5,33.0,32.7,32.4,32.1,31.8,31.4,31.0,30.7,30.4,30.0,29.6,29.2,28.8,28.4,28.0,27.5,27.2,26.8,26.4,26.0,25.6,25.2,24.9,24.6,24.2,23.8,23.5,23.1,22.8,22.4,22.0,21.7,21.3,21.0,20.6,20.3,20.0,19.6,19.2,18.9,18.5,18.2,17.8,17.4,17.1,16.8,16.4,16.0,15.6,14.8,14.4,14.1,13.4,12.4,11.5,10.9,10.6,10.3]
transit_pts = [(3.8,47.4),(2.7,40.4),(3.3,40.4),(3.6,39.7),(2.2,39.5),(3.1,39.5),(3.3,38.5),(1.4,38.5),(1.5,37.7),(1.2,35.6),(4.5,33.8),(4.8,33.8),(2.2,32.9),(6.8,33.1),(4.7,33.0),(12.6,32.9),(4.2,32.5),(5.2,32.6),(5.9,32.3),(7.2,32.5),(2.6,32.2),(1.2,32.1),(5.4,31.7),(1.3,31.3),(3.1,31.0),(3.5,30.9),(5.7,30.9),(20.2,30.9),(4.6,30.8),(4.2,30.2),(6.8,30.3),(1.5,29.7),(2.6,29.7),(6.3,29.8),(4.5,29.4),(5.6,29.2),(6.5,29.4),(4.7,28.9),(6.8,28.6),(4.2,28.2),(4.7,28.1),(5.2,28.2),(2.5,27.9),(7.7,28.0),(1.2,27.2),(1.5,26.8),(2.4,27.1),(3.1,27.0),(4.4,26.9),(3.8,26.2),(2.1,26.3),(4.7,26.2),(8.2,26.2),(10.9,26.2),(5.8,25.5),(4.9,25.3),(1.4,25.5),(7.4,25.2),(7.8,25.0),(8.7,25.2),(6.2,24.8),(10.2,24.9),(3.3,24.6),(3.9,24.5),(1.3,24.3),(5.2,24.4),(5.7,24.3),(4.4,24.1),(10.2,24.0),(11.8,24.0),(9.0,24.0),(7.4,23.8),(5.7,23.9),(6.4,23.3),(8.8,23.4),(9.5,23.1),(10.8,23.1),(11.1,23.1),(11.9,23.0),(13.0,23.3),(2.5,22.9),(3.9,22.8),(4.5,22.9),(5.0,23.0),(12.6,22.7),(13.4,22.6),(7.7,22.5),(10.1,22.5),(1.2,22.5),(1.8,22.3),(11.3,22.3),(8.8,22.1),(4.0,21.9),(5.4,22.0),(6.8,21.9),(12.1,21.9),(10.3,21.6),(9.6,21.6),(13.3,21.5),(6.1,21.4),(4.6,21.2),(3.8,21.2),(8.1,21.2),(1.3,21.2),(22.6,21.2),(11.7,20.9),(14.1,20.9),(5.7,20.7),(8.9,20.6),(10.6,20.6),(3.1,20.5),(7.4,20.4),(8.1,20.5),(10.2,20.4),(5.2,20.3),(10.8,20.2),(12.5,20.1),(2.4,20.0),(6.6,20.0),(9.1,20.0),(3.1,19.8),(3.5,19.8),(3.8,19.6),(5.2,19.6),(7.4,19.6),(10.8,19.6),(14.5,19.6),(15.4,19.4),(8.3,19.4),(12.8,19.2),(9.0,19.1),(5.7,19.0),(6.3,18.8),(7.8,18.8),(10.2,18.9),(15.1,18.8),(19.5,18.8),(11.6,18.6),(10.9,18.4),(7.3,18.3),(12.1,18.5),(5.0,18.3),(9.7,18.2),(13.2,18.1),(15.0,18.0),(2.2,17.9),(5.1,17.7),(12.2,17.8),(10.6,17.9),(8.7,17.7),(2.1,17.6),(5.7,17.3),(6.5,17.3),(1.5,17.0),(11.2,16.9),(9.0,16.8),(8.6,16.7),(9.8,16.8),(12.6,16.7),(14.8,16.9),(15.8,16.7),(19.7,16.9),(21.7,17.1),(5.1,16.5),(7.0,16.4),(7.6,16.4),(11.2,16.3),(22.4,16.1),(8.1,15.9),(10.5,15.6),(40.2,15.8),(14.2,15.2),(7.5,15.0),(1.3,14.8),(1.8,14.3),(7.0,14.5),(8.3,14.5),(12.7,14.4),(22.8,14.4),(8.1,14.2),(18.9,13.9),(8.2,13.7),(5.6,13.4),(6.5,13.4),(10.9,13.4),(9.0,12.3),(9.9,12.3),(5.2,12.4),(16.0,11.9),(16.3,11.3),(8.8,11.4),(22.0,10.5),(9.8,10.3),(4.0,9.7),(7.8,9.8),(10.4,9.0),(65.0,15.6)]

income_ticks = [50000,75000,100000,125000,150000]
p_gas_ticks = [3.0,3.5,4.0,4.5,5.0]
den_pop_ticks = [0,10000,20000,30000,40000]
den_job_ticks = [0,25000,50000,75000,100000,125000]
jp_ratio_ticks = [0.2,0.4,0.6,0.8]
road_ticks = [0,10,20,30,40,50,60]
int_ticks = [0,200,400,600]
transit_ticks = [0,20,40,60]
y_ticks = [0,10,20,30,40,50]
y_name = "DVMT_C"

def xy(points):
    return [p[0] for p in points], [p[1] for p in points]

gas_x = np.concatenate([[c]*len(v) for c, v in zip(p_gas_columns, p_gas_values)])
gas_y = np.concatenate(p_gas_values)
tx, ty = xy(transit_pts)
transit_x = [transit_zero_x]*len(transit_zero_y) + tx
transit_y = transit_zero_y + ty

W, H = 3611, 4151
DPI = 100
plt.rcParams['font.family'] = ['Liberation Sans', 'DejaVu Sans']
fig = plt.figure(figsize=(W/DPI, H/DPI), dpi=DPI, facecolor='white')

panels = [
 ("INCOME", *xy(income_pts), income_ticks, '{:,.1f}', (181,1724,30,878), (374,50000,1533,150000), (836,72), (950,1012), 920, 29, 445, 168),
 ("P_GAS", gas_x, gas_y, p_gas_ticks, '{:.1f}', (2061,3597,34,880), (2138,3.0,3521,5.0), (838,77), (2825,1012), 920, 1907, 445, 2049),
 ("DEN_POP", *xy(den_pop_pts), den_pop_ticks, '{:,.1f}', (193,1703,1084,1899), (256,0,1629,40000), (1862,1124), (947,2033), 1944, 40, 1490, 182),
 ("DEN_JOB", *xy(den_job_pts), den_job_ticks, '{:,.1f}', (2068,3579,1079,1910), (2132,0,3362,125000), (1873,1124), (2825,2044), 1955, 1918, 1495, 2055),
 ("JP_RATIO", *xy(jp_ratio_pts), jp_ratio_ticks, '{:.3f}', (170,1707,2107,2941), (433,0.2,1617,0.8), (2900,2148), (936,3070), 2982, 40, 2516, 159),
 ("ROAD", *xy(road_pts), road_ticks, '{:.1f}', (2068,3579,2108,2936), (2132,0,3507,60), (2899,2148), (2825,3070), 2982, 1918, 2516, 2055),
 ("INT", *xy(int_pts), int_ticks, '{:.1f}', (192,1707,3134,3975), (255,0,1435,600), (3933,3175), (947,4096), 4007, 40, 3545, 180),
 ("TRANSIT", transit_x, transit_y, transit_ticks, '{:.1f}', (2068,3579,3134,3962), (2132,0,3312,60), (3928,3175), (2825,4096), 4007, 1918, 3545, 2055),
]

for name, xs, ys, ticks, fmt, box, xc, yc, xlab, ticky, ylabx, ylaby, ytr in panels:
    l, r, t, b = box
    ax = fig.add_axes([l/W, 1-b/H, (r-l)/W, (b-t)/H])
    px0, v0, px1, v1 = xc
    per = (v1-v0)/(px1-px0)
    ax.set_xlim(v0+(l-px0)*per, v0+(r-px0)*per)
    y0px, y50px = yc
    upp = 50/(y0px-y50px)
    ax.set_ylim((y0px-b)*upp, (y0px-t)*upp)
    ax.set_axisbelow(True)
    ax.grid(axis='y', color='#cfcfcf', lw=2.3)
    ax.grid(axis='x', visible=False)
    for s in ('top', 'right'):
        ax.spines[s].set_visible(False)
    ax.spines['left'].set_color('#5a5a5a')
    ax.spines['left'].set_linewidth(1.6)
    ax.spines['bottom'].set_color('#a8a8a8')
    ax.spines['bottom'].set_linewidth(3.0)
    ax.scatter(xs, ys, s=125, facecolor='#00a3e0', edgecolor='#0c3553', linewidth=1.5, zorder=3, clip_on=False)
    ax.set_xticks(ticks)
    ax.set_xticklabels([fmt.format(v) for v in ticks])
    ax.set_yticks(y_ticks)
    small = name == "JP_RATIO"
    ax.set_yticklabels(['{:.1f}'.format(v) for v in y_ticks], fontsize=24 if small else 33,
                       color='#444444' if small else 'black')
    ax.tick_params(axis='both', length=0)
    ax.tick_params(axis='x', labelsize=33, pad=(ticky-b)*0.72-11)
    ax.tick_params(axis='y', pad=(l-ytr)*0.72)
    off = ScaledTranslation(0, -(7 if small else 8)/DPI, fig.dpi_scale_trans)
    for lab in ax.get_yticklabels():
        lab.set_transform(lab.get_transform()+off)
    fig.text(xlab[0]/W, 1-xlab[1]/H, name, fontsize=31, fontweight='bold', ha='center', va='center')
    fig.text(ylabx/W, 1-(t+b-15)/2/H, y_name, fontsize=35, fontweight='bold', rotation=90, ha='center', va='center')

fig.savefig('out.png', dpi=DPI, facecolor='white')
